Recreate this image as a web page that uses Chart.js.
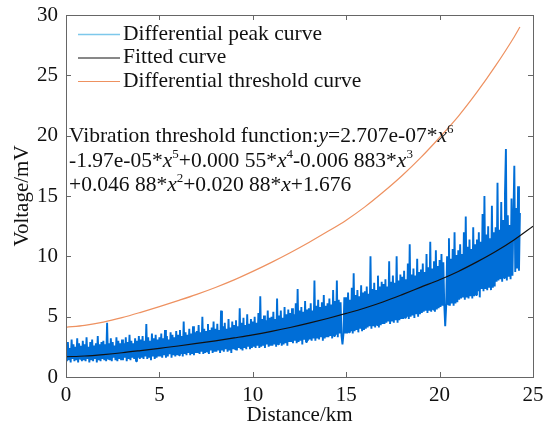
<!DOCTYPE html>
<html>
<head>
<meta charset="utf-8">
<script src="https://cdn.jsdelivr.net/npm/chart.js@4/dist/chart.umd.min.js"></script>
<style>
  body { margin: 0; background: #fff; }
  canvas { display: block; }
</style>
</head>
<body>
<canvas id="voltageChart" width="545" height="432"></canvas>
<script>
// differential peak curve, one reading every 0.05 km from 0 km
const peakStart = 0;
const peakStep = 0.05;
const peakValues = [
  2.6,1.3,2.9,1.4,2.4,1.2,3.1,1.5,2.7,1.3,2.5,1.4,3.2,1.2,2.8,1.5,2.6,1.3,3.0,1.4,
  2.7,1.3,3.3,1.5,2.5,1.2,2.9,1.4,3.1,1.3,2.6,1.5,2.8,1.2,3.4,1.4,2.7,1.3,2.9,1.5,
  3.0,1.4,2.7,1.3,4.5,1.5,2.8,1.4,3.2,1.3,2.9,1.6,2.6,1.4,3.3,1.3,3.0,1.5,2.8,1.4,
  3.1,1.4,2.8,1.6,3.3,1.3,2.9,1.5,3.5,1.4,3.0,1.6,2.8,1.5,3.2,1.3,3.0,1.6,3.4,1.5,
  3.1,1.6,3.4,1.5,3.0,1.7,4.4,1.5,3.3,1.6,3.0,1.4,3.6,1.7,3.2,1.5,3.5,1.6,3.1,1.7,
  3.3,1.7,3.6,1.6,3.2,1.8,3.9,1.6,3.4,1.7,3.1,1.9,3.7,1.6,3.5,1.8,3.3,1.7,3.8,1.8,
  3.5,1.8,3.9,1.9,3.4,1.7,4.6,1.9,3.7,1.8,3.5,2.0,4.0,1.8,3.6,1.9,4.2,1.8,3.7,2.0,
  3.8,2.0,4.3,1.9,3.7,2.1,5.0,1.9,4.0,2.0,3.8,2.1,4.4,1.9,3.9,2.2,4.1,2.0,4.6,2.1,
  4.0,2.1,4.4,2.2,3.9,2.0,5.5,2.2,4.2,2.1,4.5,2.3,4.0,2.1,4.8,2.2,4.1,2.0,4.6,2.3,
  4.3,2.3,4.7,2.2,4.2,2.4,5.7,2.3,4.5,2.2,4.9,2.4,4.3,2.3,5.2,2.5,4.4,2.3,4.8,2.4,
  4.6,2.5,5.0,2.4,4.5,2.6,5.3,2.4,6.7,2.5,4.8,2.6,5.1,2.4,4.7,2.7,5.5,2.5,4.9,2.6,
  5.0,2.6,5.4,2.7,4.8,2.5,6.5,2.7,5.1,2.8,5.5,2.6,4.9,2.7,5.8,2.8,5.2,2.6,5.6,2.9,
  5.3,2.9,5.7,2.8,5.2,3.0,6.1,2.8,7.3,2.9,5.5,3.0,5.8,2.7,5.4,3.1,6.3,2.9,5.6,3.0,
  5.7,3.1,6.1,3.0,5.5,3.2,8.0,3.0,5.9,3.2,6.4,3.1,5.8,3.3,6.2,3.0,6.8,3.2,5.9,3.3,
  6.1,3.3,6.5,3.4,6.0,3.2,7.2,3.4,6.3,3.5,8.0,3.3,6.4,3.6,6.2,3.4,2.7,3.5,6.6,3.6,
  6.6,3.6,7.0,3.7,6.4,3.8,7.4,3.6,8.6,3.8,6.8,3.9,7.2,3.7,6.7,4.0,7.6,3.8,7.0,3.9,
  7.1,4.0,7.5,4.1,6.9,4.2,10.0,4.0,7.3,4.2,7.8,4.1,7.2,4.3,8.4,4.1,7.5,4.3,7.9,4.4,
  7.7,4.4,8.1,4.5,7.5,4.6,9.6,4.4,7.9,4.6,8.4,4.5,7.8,4.7,10.0,4.5,8.0,4.7,8.5,4.8,
  8.3,4.8,8.8,4.9,8.1,5.0,9.4,4.8,11.0,5.0,8.5,5.1,9.0,4.9,8.4,5.2,9.8,5.0,8.7,5.2,
  8.9,5.3,9.4,5.4,8.7,5.5,10.2,5.3,9.1,5.5,11.2,5.4,9.0,5.6,9.6,5.4,10.5,5.6,9.2,5.7,
  9.7,5.8,10.2,5.9,9.5,6.0,4.2,5.8,10.0,6.0,11.5,5.9,9.8,6.1,10.6,5.9,12.0,6.1,10.1,6.2,
  10.5,6.4,11.0,6.5,10.2,6.6,12.0,6.4,13.3,6.6,10.8,6.5,11.4,6.7,10.6,6.5,12.4,6.7,11.0,6.8,
  11.4,7.1,12.0,6.6,11.2,7.3,13.5,7.1,15.0,7.3,11.8,7.2,12.5,7.4,11.5,7.2,14.2,7.4,12.0,7.5,
  12.4,7.9,16.1,8.0,12.2,8.1,14.5,7.9,13.0,8.2,15.2,18.9,8.0,13.4,8.3,12.6,8.1,14.8,8.4,13.1,
  17.5,8.7,14.0,9.0,15.8,8.8,13.6
];

// fitted curve, read every km
const fittedKm = [0,1,2,3,4,5,6,7,8,9,10,11,12,13,14,15,16,17,18,19,20,21,22,23,24,25];
const fittedValues = [1.68,1.74,1.86,2.01,2.19,2.38,2.57,2.78,3.00,3.24,3.49,3.78,4.10,4.46,4.85,
  5.27,5.72,6.24,6.83,7.45,8.06,8.75,9.54,10.40,11.38,12.5];

// differential threshold curve
const thresholdKm = [0,1,2,3,4,5,6,7,8,9,10,11,12,13,14,15,16,17,18,19,20,21,22,23,24,24.3];
const thresholdValues = [4.12,4.28,4.55,4.92,5.36,5.83,6.33,6.85,7.42,8.05,8.75,9.5,10.3,11.15,12.05,
  13.0,14.1,15.35,16.7,18.2,19.85,21.6,23.6,25.8,28.2,29.0];

const xTicks = [0, 5, 10, 15, 20, 25];
const yTicks = [0, 5, 10, 15, 20, 25, 30];

const seriesNames = ["Differential peak curve", "Fitted curve", "Differential threshold curve"];

const serif = '"Liberation Serif", "Times New Roman", serif';
const peakColor = "rgb(0, 110, 215)";
const peakLegendColor = "rgb(125, 200, 235)";
const fitColor = "#111";
const thresholdColor = "#ee9160";

const peakPoints = peakValues.map((v, i) => ({ x: peakStart + i * peakStep, y: v }));
const fitPoints = fittedKm.map((x, i) => ({ x: x, y: fittedValues[i] }));
const thresholdPoints = thresholdKm.map((x, i) => ({ x: x, y: thresholdValues[i] }));

// box round the plot with ticks pointing inwards, like matlab axes
const boxPlugin = {
  id: "box",
  afterDraw(chart) {
    const ctx = chart.ctx;
    const a = chart.chartArea;
    const xs = chart.scales.x;
    const ys = chart.scales.y;
    ctx.save();
    ctx.strokeStyle = "#666";
    ctx.lineWidth = 1;
    ctx.strokeRect(a.left + 0.5, a.top + 0.5, a.right - a.left, a.bottom - a.top);
    ctx.beginPath();
    xTicks.forEach((t) => {
      const px = Math.round(xs.getPixelForValue(t)) + 0.5;
      ctx.moveTo(px, a.bottom); ctx.lineTo(px, a.bottom - 5);
      ctx.moveTo(px, a.top); ctx.lineTo(px, a.top + 5);
    });
    yTicks.forEach((t) => {
      const py = Math.round(ys.getPixelForValue(t)) + 0.5;
      ctx.moveTo(a.left, py); ctx.lineTo(a.left + 5, py);
      ctx.moveTo(a.right, py); ctx.lineTo(a.right - 5, py);
    });
    ctx.stroke();
    ctx.restore();
  },
};

// legend in the upper left corner and the fitted function text
const notesPlugin = {
  id: "notes",
  afterDraw(chart) {
    const ctx = chart.ctx;
    const a = chart.chartArea;
    const colors = [peakLegendColor, fitColor, thresholdColor];
    ctx.save();
    ctx.font = "21.5px " + serif;
    ctx.textBaseline = "middle";
    ctx.fillStyle = "#111";
    seriesNames.forEach((name, i) => {
      const y = a.top + 19 + i * 23.5;
      ctx.strokeStyle = colors[i];
      ctx.lineWidth = i === 0 ? 1.5 : 1;
      ctx.beginPath();
      ctx.moveTo(a.left + 12, y + 0.5);
      ctx.lineTo(a.left + 54, y + 0.5);
      ctx.stroke();
      ctx.fillText(name, a.left + 57, y);
    });

    const lines = [
      [["Vibration threshold function:"], ["y", "i"], ["=2.707e-07*"], ["x", "i"], ["6", "s"]],
      [["-1.97e-05*"], ["x", "i"], ["5", "s"], ["+0.000 55*"], ["x", "i"], ["4", "s"],
       ["-0.006 883*"], ["x", "i"], ["3", "s"]],
      [["+0.046 88*"], ["x", "i"], ["2", "s"], ["+0.020 88*"], ["x", "i"], ["+1.676"]],
    ];
    ctx.textBaseline = "alphabetic";
    lines.forEach((parts, row) => {
      let x = a.left + 3;
      const base = a.top + 127 + row * 24.5;
      parts.forEach(([text, kind]) => {
        let y = base;
        if (kind === "i") ctx.font = "italic 21.5px " + serif;
        else if (kind === "s") { ctx.font = "13px " + serif; y = base - 9; }
        else ctx.font = "21.5px " + serif;
        ctx.fillText(text, x, y);
        x += ctx.measureText(text).width;
      });
    });
    ctx.restore();
  },
};

new Chart(document.getElementById("voltageChart"), {
  type: "line",
  data: {
    datasets: [
      {
        label: seriesNames[0],
        data: peakPoints,
        borderColor: peakColor,
        borderWidth: 1.9,
        borderJoinStyle: "bevel",
        pointRadius: 0,
        tension: 0,
        order: 3,
      },
      {
        label: seriesNames[1],
        data: fitPoints,
        borderColor: fitColor,
        borderWidth: 1.2,
        pointRadius: 0,
        cubicInterpolationMode: "monotone",
        order: 1,
      },
      {
        label: seriesNames[2],
        data: thresholdPoints,
        borderColor: thresholdColor,
        borderWidth: 1.2,
        pointRadius: 0,
        cubicInterpolationMode: "monotone",
        order: 2,
      },
    ],
  },
  options: {
    responsive: false,
    animation: false,
    devicePixelRatio: 1,
    layout: { padding: { top: 15, right: 12, left: 0, bottom: 0 } },
    plugins: {
      legend: { display: false },
      tooltip: { enabled: false },
    },
    scales: {
      x: {
        type: "linear",
        min: 0,
        max: 25,
        afterBuildTicks: (scale) => { scale.ticks = xTicks.map((v) => ({ value: v })); },
        afterFit: (scale) => {
          scale.height = 55;
          scale.paddingLeft = 0;
          scale.paddingRight = 0;
        },
        grid: { display: false, drawTicks: false },
        border: { display: false },
        ticks: { color: "#111", font: { family: serif, size: 21 }, padding: 6, maxRotation: 0 },
        title: { display: true, text: "Distance/km", color: "#111", font: { family: serif, size: 21 }, padding: 4 },
      },
      y: {
        type: "linear",
        min: 0,
        max: 30,
        afterBuildTicks: (scale) => { scale.ticks = yTicks.map((v) => ({ value: v })); },
        afterFit: (scale) => {
          scale.width = 66;
          scale.paddingTop = 0;
          scale.paddingBottom = 0;
        },
        grid: { display: false, drawTicks: false },
        border: { display: false },
        ticks: { color: "#111", font: { family: serif, size: 21 }, padding: 8 },
        title: { display: true, text: "Voltage/mV", color: "#111", font: { family: serif, size: 21 }, padding: 10 },
      },
    },
  },
  plugins: [boxPlugin, notesPlugin],
});
</script>
</body>
</html>
